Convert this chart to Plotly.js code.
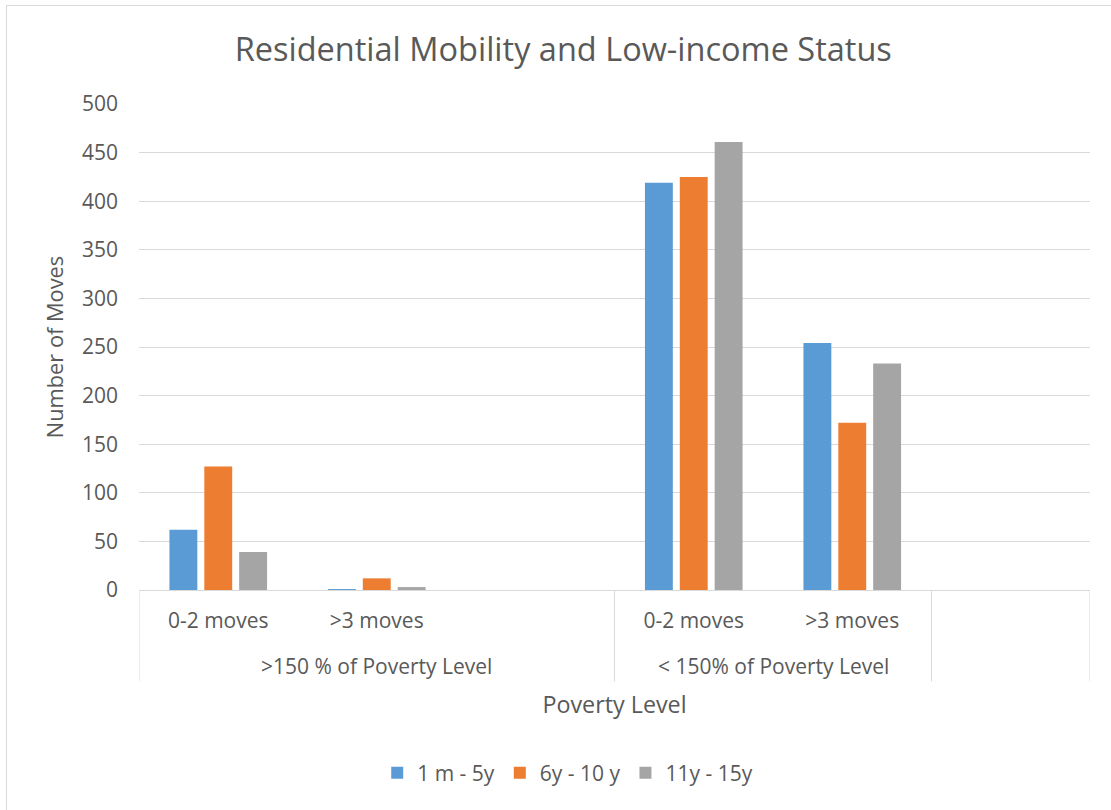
<!DOCTYPE html>
<html>
<head>
<meta charset="utf-8">
<script src="https://cdn.plot.ly/plotly-3.0.1.min.js"></script>
<style>
  html, body { margin: 0; padding: 0; background: #fff; }
  #chart { width: 1111px; height: 810px; position: relative; }
  #frame { position: absolute; left: 6px; top: 5px; right: 0; bottom: 0;
           border-left: 1px solid #d9d9d9; border-top: 1px solid #d9d9d9; pointer-events: none; }
</style>
</head>
<body>
<div id="chart"></div>
<div id="frame"></div>
<script>
// ---- data ----
const groupLabels = [">150 % of Poverty Level", ">150 % of Poverty Level", ">150 % of Poverty Level",
                     "< 150% of Poverty Level", "< 150% of Poverty Level", ""];
const moveLabels = ["0-2 moves", ">3 moves", "", "0-2 moves", ">3 moves", ""];
const seriesNames = ["1 m - 5y", "6y - 10 y", "11y - 15y"];
const series1 = [62, 1, null, 419, 254, null];
const series2 = [127, 12, null, 425, 172, null];
const series3 = [39, 3, null, 461, 233, null];
const seriesColors = ["#5B9BD5", "#ED7D31", "#A5A5A5"];
const yTicks = [0, 50, 100, 150, 200, 250, 300, 350, 400, 450, 500];

const FONT = "Open Sans, sans-serif";
const TXT = "#595959";
const GRID = "#d9d9d9";

// unique category keys (group + inner label) so repeated inner labels stay distinct
const catKeys = groupLabels.map((g, i) => "c" + i + ":" + g + "/" + moveLabels[i]);

const allSeries = [series1, series2, series3];
const traces = allSeries.map((vals, i) => ({
  type: "bar",
  name: seriesNames[i],
  x: catKeys,
  y: vals,
  marker: { color: seriesColors[i], line: { width: 0 } },
  hoverinfo: "y+name"
}));

// group spans: consecutive runs of the same group label
const groups = [];
groupLabels.forEach((g, i) => {
  const last = groups[groups.length - 1];
  if (last && last.label === g) last.end = i;
  else groups.push({ label: g, start: i, end: i });
});

const labelDepth = -0.1574;   // group-label row (paper units below the axis)
const dividerDepth = -0.188;  // divider length below the axis

const annotations = groups.filter(g => g.label.trim() !== "").map(g => ({
  text: g.label,
  x: (g.start + g.end) / 2, xref: "x",
  y: labelDepth, yref: "paper",
  xanchor: "center", yanchor: "middle",
  showarrow: false,
  font: { family: FONT, size: 21, color: TXT }
}));

const boundaries = [groups[0].start - 0.5].concat(groups.map(g => g.end + 0.5));
const shapes = boundaries.map(b => ({
  type: "line", xref: "x", yref: "paper",
  x0: b, x1: b, y0: 0, y1: dividerDepth,
  line: { color: GRID, width: 1 }
}));

const layout = {
  width: 1111, height: 810,
  paper_bgcolor: "#ffffff", plot_bgcolor: "#ffffff",
  margin: { l: 139, r: 21, t: 104, b: 220, pad: 0 },
  font: { family: FONT, color: TXT, size: 21 },
  barmode: "group",
  bargap: 0.34,
  bargroupgap: 0.2,
  title: {
    text: "Residential Mobility and Low-income Status",
    font: { family: FONT, size: 32.5, color: TXT },
    x: 0.507, xref: "container", xanchor: "center",
    y: 1 - 50 / 810, yref: "container", yanchor: "middle"
  },
  xaxis: {
    type: "category",
    categoryorder: "array", categoryarray: catKeys,
    tickvals: catKeys, ticktext: moveLabels,
    range: [-0.5, catKeys.length - 0.5],
    showgrid: false,
    showline: true, linecolor: GRID, linewidth: 1,
    ticks: "", ticklabelstandoff: 12,
    tickfont: { family: FONT, size: 21, color: TXT },
    title: { text: "Poverty Level", font: { family: FONT, size: 23.3, color: TXT }, standoff: 63 },
    zeroline: false
  },
  yaxis: {
    range: [0, 500],
    tickvals: yTicks,
    showgrid: true, gridcolor: GRID, gridwidth: 1,
    showline: false, zeroline: false,
    ticks: "", ticklabelstandoff: 20,
    tickfont: { family: FONT, size: 21, color: TXT },
    title: { text: "Number of Moves", font: { family: FONT, size: 21.8, color: TXT }, standoff: 12 }
  },
  legend: {
    orientation: "h",
    x: 0.511, xref: "container", xanchor: "center",
    y: 1 - 773 / 810, yref: "container", yanchor: "middle",
    font: { family: FONT, size: 21, color: TXT },
    itemwidth: 30, tracegroupgap: 0
  },
  annotations: annotations,
  shapes: shapes,
  showlegend: true
};

Plotly.newPlot("chart", traces, layout, { displayModeBar: false, staticPlot: true });
</script>
</body>
</html>
